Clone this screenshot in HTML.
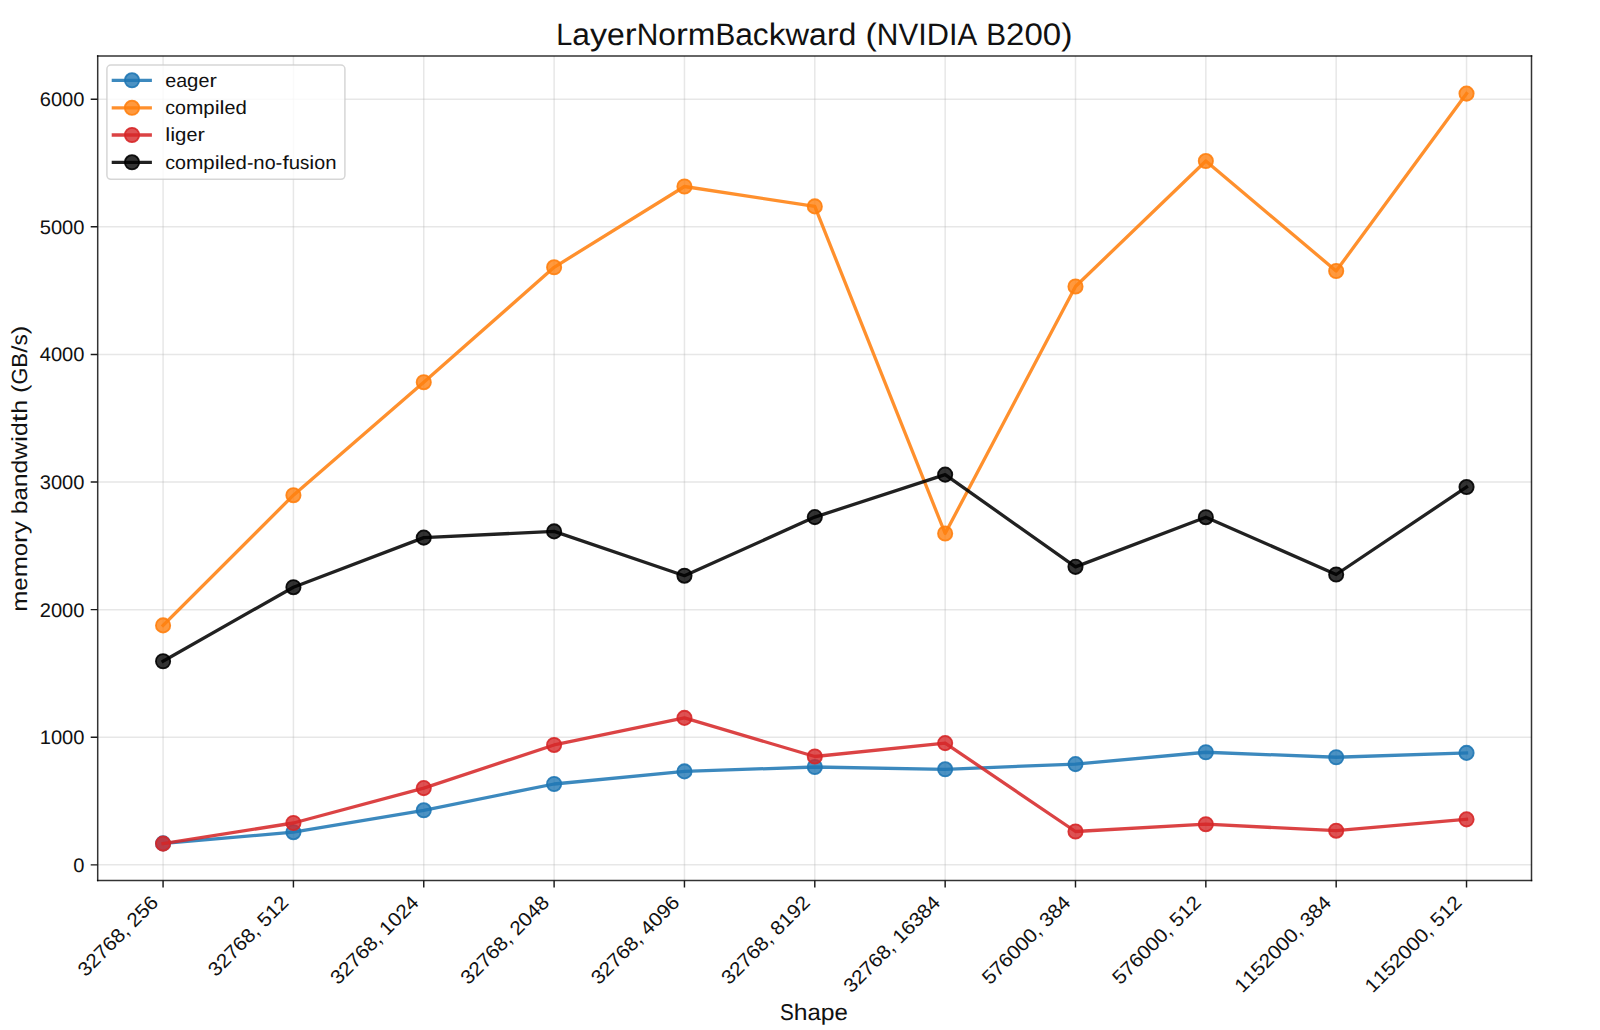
<!DOCTYPE html><html><head><meta charset="utf-8"><title>LayerNormBackward (NVIDIA B200)</title><style>html,body{margin:0;padding:0;background:#fff;overflow:hidden;width:1600px;height:1030px;}svg{display:block;}text{font-family:"Liberation Sans", sans-serif;fill:#111;text-rendering:geometricPrecision;}</style></head><body>
<svg width="1600" height="1030" viewBox="0 0 1600 1030">
<rect x="0" y="0" width="1600" height="1030" fill="#fff"/>
<path d="M163.07 56V880.4 M293.42 56V880.4 M423.76 56V880.4 M554.11 56V880.4 M684.45 56V880.4 M814.8 56V880.4 M945.15 56V880.4 M1075.49 56V880.4 M1205.84 56V880.4 M1336.18 56V880.4 M1466.53 56V880.4" stroke="#b0b0b0" stroke-opacity="0.3" stroke-width="1.5" fill="none"/>
<path d="M97.7 864.85H1531.5 M97.7 737.24H1531.5 M97.7 609.63H1531.5 M97.7 482.02H1531.5 M97.7 354.41H1531.5 M97.7 226.8H1531.5 M97.7 99.19H1531.5" stroke="#b0b0b0" stroke-opacity="0.3" stroke-width="1.5" fill="none"/>
<polyline points="163.07,843.4 293.42,832.2 423.76,810.3 554.11,784 684.45,771.4 814.8,767 945.15,769.3 1075.49,764.1 1205.84,752.25 1336.18,757.25 1466.53,752.9" fill="none" stroke="#1f77b4" stroke-opacity="0.87" stroke-width="3.3" stroke-linejoin="round" stroke-linecap="square"/>
<circle cx="163.07" cy="843.4" r="7.15" fill="#1f77b4" fill-opacity="0.8" stroke="#1f77b4" stroke-opacity="0.9" stroke-width="1.8"/>
<circle cx="293.42" cy="832.2" r="7.15" fill="#1f77b4" fill-opacity="0.8" stroke="#1f77b4" stroke-opacity="0.9" stroke-width="1.8"/>
<circle cx="423.76" cy="810.3" r="7.15" fill="#1f77b4" fill-opacity="0.8" stroke="#1f77b4" stroke-opacity="0.9" stroke-width="1.8"/>
<circle cx="554.11" cy="784" r="7.15" fill="#1f77b4" fill-opacity="0.8" stroke="#1f77b4" stroke-opacity="0.9" stroke-width="1.8"/>
<circle cx="684.45" cy="771.4" r="7.15" fill="#1f77b4" fill-opacity="0.8" stroke="#1f77b4" stroke-opacity="0.9" stroke-width="1.8"/>
<circle cx="814.8" cy="767" r="7.15" fill="#1f77b4" fill-opacity="0.8" stroke="#1f77b4" stroke-opacity="0.9" stroke-width="1.8"/>
<circle cx="945.15" cy="769.3" r="7.15" fill="#1f77b4" fill-opacity="0.8" stroke="#1f77b4" stroke-opacity="0.9" stroke-width="1.8"/>
<circle cx="1075.49" cy="764.1" r="7.15" fill="#1f77b4" fill-opacity="0.8" stroke="#1f77b4" stroke-opacity="0.9" stroke-width="1.8"/>
<circle cx="1205.84" cy="752.25" r="7.15" fill="#1f77b4" fill-opacity="0.8" stroke="#1f77b4" stroke-opacity="0.9" stroke-width="1.8"/>
<circle cx="1336.18" cy="757.25" r="7.15" fill="#1f77b4" fill-opacity="0.8" stroke="#1f77b4" stroke-opacity="0.9" stroke-width="1.8"/>
<circle cx="1466.53" cy="752.9" r="7.15" fill="#1f77b4" fill-opacity="0.8" stroke="#1f77b4" stroke-opacity="0.9" stroke-width="1.8"/>
<polyline points="163.07,625.4 293.42,495.2 423.76,382.2 554.11,267.3 684.45,186.5 814.8,206.4 945.15,533.5 1075.49,286.5 1205.84,161.05 1336.18,271 1466.53,93.6" fill="none" stroke="#ff7f0e" stroke-opacity="0.87" stroke-width="3.3" stroke-linejoin="round" stroke-linecap="square"/>
<circle cx="163.07" cy="625.4" r="7.15" fill="#ff7f0e" fill-opacity="0.8" stroke="#ff7f0e" stroke-opacity="0.9" stroke-width="1.8"/>
<circle cx="293.42" cy="495.2" r="7.15" fill="#ff7f0e" fill-opacity="0.8" stroke="#ff7f0e" stroke-opacity="0.9" stroke-width="1.8"/>
<circle cx="423.76" cy="382.2" r="7.15" fill="#ff7f0e" fill-opacity="0.8" stroke="#ff7f0e" stroke-opacity="0.9" stroke-width="1.8"/>
<circle cx="554.11" cy="267.3" r="7.15" fill="#ff7f0e" fill-opacity="0.8" stroke="#ff7f0e" stroke-opacity="0.9" stroke-width="1.8"/>
<circle cx="684.45" cy="186.5" r="7.15" fill="#ff7f0e" fill-opacity="0.8" stroke="#ff7f0e" stroke-opacity="0.9" stroke-width="1.8"/>
<circle cx="814.8" cy="206.4" r="7.15" fill="#ff7f0e" fill-opacity="0.8" stroke="#ff7f0e" stroke-opacity="0.9" stroke-width="1.8"/>
<circle cx="945.15" cy="533.5" r="7.15" fill="#ff7f0e" fill-opacity="0.8" stroke="#ff7f0e" stroke-opacity="0.9" stroke-width="1.8"/>
<circle cx="1075.49" cy="286.5" r="7.15" fill="#ff7f0e" fill-opacity="0.8" stroke="#ff7f0e" stroke-opacity="0.9" stroke-width="1.8"/>
<circle cx="1205.84" cy="161.05" r="7.15" fill="#ff7f0e" fill-opacity="0.8" stroke="#ff7f0e" stroke-opacity="0.9" stroke-width="1.8"/>
<circle cx="1336.18" cy="271" r="7.15" fill="#ff7f0e" fill-opacity="0.8" stroke="#ff7f0e" stroke-opacity="0.9" stroke-width="1.8"/>
<circle cx="1466.53" cy="93.6" r="7.15" fill="#ff7f0e" fill-opacity="0.8" stroke="#ff7f0e" stroke-opacity="0.9" stroke-width="1.8"/>
<polyline points="163.07,843.6 293.42,823 423.76,788.1 554.11,744.95 684.45,717.9 814.8,756.5 945.15,743.1 1075.49,831.5 1205.84,824.2 1336.18,830.7 1466.53,819.35" fill="none" stroke="#d62728" stroke-opacity="0.87" stroke-width="3.3" stroke-linejoin="round" stroke-linecap="square"/>
<circle cx="163.07" cy="843.6" r="7.15" fill="#d62728" fill-opacity="0.8" stroke="#d62728" stroke-opacity="0.9" stroke-width="1.8"/>
<circle cx="293.42" cy="823" r="7.15" fill="#d62728" fill-opacity="0.8" stroke="#d62728" stroke-opacity="0.9" stroke-width="1.8"/>
<circle cx="423.76" cy="788.1" r="7.15" fill="#d62728" fill-opacity="0.8" stroke="#d62728" stroke-opacity="0.9" stroke-width="1.8"/>
<circle cx="554.11" cy="744.95" r="7.15" fill="#d62728" fill-opacity="0.8" stroke="#d62728" stroke-opacity="0.9" stroke-width="1.8"/>
<circle cx="684.45" cy="717.9" r="7.15" fill="#d62728" fill-opacity="0.8" stroke="#d62728" stroke-opacity="0.9" stroke-width="1.8"/>
<circle cx="814.8" cy="756.5" r="7.15" fill="#d62728" fill-opacity="0.8" stroke="#d62728" stroke-opacity="0.9" stroke-width="1.8"/>
<circle cx="945.15" cy="743.1" r="7.15" fill="#d62728" fill-opacity="0.8" stroke="#d62728" stroke-opacity="0.9" stroke-width="1.8"/>
<circle cx="1075.49" cy="831.5" r="7.15" fill="#d62728" fill-opacity="0.8" stroke="#d62728" stroke-opacity="0.9" stroke-width="1.8"/>
<circle cx="1205.84" cy="824.2" r="7.15" fill="#d62728" fill-opacity="0.8" stroke="#d62728" stroke-opacity="0.9" stroke-width="1.8"/>
<circle cx="1336.18" cy="830.7" r="7.15" fill="#d62728" fill-opacity="0.8" stroke="#d62728" stroke-opacity="0.9" stroke-width="1.8"/>
<circle cx="1466.53" cy="819.35" r="7.15" fill="#d62728" fill-opacity="0.8" stroke="#d62728" stroke-opacity="0.9" stroke-width="1.8"/>
<polyline points="163.07,661.25 293.42,587.2 423.76,537.6 554.11,531.4 684.45,575.7 814.8,517.1 945.15,474.6 1075.49,566.85 1205.84,517.2 1336.18,574.5 1466.53,487.05" fill="none" stroke="#000000" stroke-opacity="0.87" stroke-width="3.3" stroke-linejoin="round" stroke-linecap="square"/>
<circle cx="163.07" cy="661.25" r="7.15" fill="#000000" fill-opacity="0.8" stroke="#000000" stroke-opacity="0.9" stroke-width="1.8"/>
<circle cx="293.42" cy="587.2" r="7.15" fill="#000000" fill-opacity="0.8" stroke="#000000" stroke-opacity="0.9" stroke-width="1.8"/>
<circle cx="423.76" cy="537.6" r="7.15" fill="#000000" fill-opacity="0.8" stroke="#000000" stroke-opacity="0.9" stroke-width="1.8"/>
<circle cx="554.11" cy="531.4" r="7.15" fill="#000000" fill-opacity="0.8" stroke="#000000" stroke-opacity="0.9" stroke-width="1.8"/>
<circle cx="684.45" cy="575.7" r="7.15" fill="#000000" fill-opacity="0.8" stroke="#000000" stroke-opacity="0.9" stroke-width="1.8"/>
<circle cx="814.8" cy="517.1" r="7.15" fill="#000000" fill-opacity="0.8" stroke="#000000" stroke-opacity="0.9" stroke-width="1.8"/>
<circle cx="945.15" cy="474.6" r="7.15" fill="#000000" fill-opacity="0.8" stroke="#000000" stroke-opacity="0.9" stroke-width="1.8"/>
<circle cx="1075.49" cy="566.85" r="7.15" fill="#000000" fill-opacity="0.8" stroke="#000000" stroke-opacity="0.9" stroke-width="1.8"/>
<circle cx="1205.84" cy="517.2" r="7.15" fill="#000000" fill-opacity="0.8" stroke="#000000" stroke-opacity="0.9" stroke-width="1.8"/>
<circle cx="1336.18" cy="574.5" r="7.15" fill="#000000" fill-opacity="0.8" stroke="#000000" stroke-opacity="0.9" stroke-width="1.8"/>
<circle cx="1466.53" cy="487.05" r="7.15" fill="#000000" fill-opacity="0.8" stroke="#000000" stroke-opacity="0.9" stroke-width="1.8"/>
<path d="M97.7 56V880.4" fill="none" stroke="#000" stroke-opacity="0.8" stroke-width="1.5" stroke-linecap="square"/>
<path d="M1531.5 56V880.4" fill="none" stroke="#000" stroke-opacity="0.8" stroke-width="1.5" stroke-linecap="square"/>
<path d="M97.7 56H1531.5" fill="none" stroke="#000" stroke-opacity="0.8" stroke-width="1.5" stroke-linecap="square"/>
<path d="M97.7 880.5H1531.5" fill="none" stroke="#000" stroke-opacity="0.8" stroke-width="1.5" stroke-linecap="square"/>
<path d="M163.07 880.4V887.4 M293.42 880.4V887.4 M423.76 880.4V887.4 M554.11 880.4V887.4 M684.45 880.4V887.4 M814.8 880.4V887.4 M945.15 880.4V887.4 M1075.49 880.4V887.4 M1205.84 880.4V887.4 M1336.18 880.4V887.4 M1466.53 880.4V887.4 M97.7 864.85H90.7 M97.7 737.24H90.7 M97.7 609.63H90.7 M97.7 482.02H90.7 M97.7 354.41H90.7 M97.7 226.8H90.7 M97.7 99.19H90.7" stroke="#1a1a1a" stroke-width="1.45" fill="none"/>
<text y="871.75" font-size="19.6"><tspan x="73.3" textLength="11.2" lengthAdjust="spacingAndGlyphs">0</tspan></text>
<text y="744.14" font-size="19.6"><tspan x="39.71" textLength="11.2" lengthAdjust="spacingAndGlyphs">1</tspan><tspan x="50.91" textLength="11.2" lengthAdjust="spacingAndGlyphs">0</tspan><tspan x="62.1" textLength="11.2" lengthAdjust="spacingAndGlyphs">0</tspan><tspan x="73.3" textLength="11.2" lengthAdjust="spacingAndGlyphs">0</tspan></text>
<text y="616.53" font-size="19.6"><tspan x="39.71" textLength="11.2" lengthAdjust="spacingAndGlyphs">2</tspan><tspan x="50.91" textLength="11.2" lengthAdjust="spacingAndGlyphs">0</tspan><tspan x="62.1" textLength="11.2" lengthAdjust="spacingAndGlyphs">0</tspan><tspan x="73.3" textLength="11.2" lengthAdjust="spacingAndGlyphs">0</tspan></text>
<text y="488.92" font-size="19.6"><tspan x="39.71" textLength="11.2" lengthAdjust="spacingAndGlyphs">3</tspan><tspan x="50.91" textLength="11.2" lengthAdjust="spacingAndGlyphs">0</tspan><tspan x="62.1" textLength="11.2" lengthAdjust="spacingAndGlyphs">0</tspan><tspan x="73.3" textLength="11.2" lengthAdjust="spacingAndGlyphs">0</tspan></text>
<text y="361.31" font-size="19.6"><tspan x="39.71" textLength="11.2" lengthAdjust="spacingAndGlyphs">4</tspan><tspan x="50.91" textLength="11.2" lengthAdjust="spacingAndGlyphs">0</tspan><tspan x="62.1" textLength="11.2" lengthAdjust="spacingAndGlyphs">0</tspan><tspan x="73.3" textLength="11.2" lengthAdjust="spacingAndGlyphs">0</tspan></text>
<text y="233.7" font-size="19.6"><tspan x="39.71" textLength="11.2" lengthAdjust="spacingAndGlyphs">5</tspan><tspan x="50.91" textLength="11.2" lengthAdjust="spacingAndGlyphs">0</tspan><tspan x="62.1" textLength="11.2" lengthAdjust="spacingAndGlyphs">0</tspan><tspan x="73.3" textLength="11.2" lengthAdjust="spacingAndGlyphs">0</tspan></text>
<text y="106.09" font-size="19.6"><tspan x="39.71" textLength="11.2" lengthAdjust="spacingAndGlyphs">6</tspan><tspan x="50.91" textLength="11.2" lengthAdjust="spacingAndGlyphs">0</tspan><tspan x="62.1" textLength="11.2" lengthAdjust="spacingAndGlyphs">0</tspan><tspan x="73.3" textLength="11.2" lengthAdjust="spacingAndGlyphs">0</tspan></text>
<text transform="translate(159.37 903.7) rotate(-45)" y="0" font-size="19.6"><tspan x="-104.21" textLength="11.58" lengthAdjust="spacingAndGlyphs">3</tspan><tspan x="-92.63" textLength="11.58" lengthAdjust="spacingAndGlyphs">2</tspan><tspan x="-81.05" textLength="11.58" lengthAdjust="spacingAndGlyphs">7</tspan><tspan x="-69.47" textLength="11.58" lengthAdjust="spacingAndGlyphs">6</tspan><tspan x="-57.89" textLength="11.58" lengthAdjust="spacingAndGlyphs">8</tspan><tspan x="-46.31" textLength="5.79" lengthAdjust="spacingAndGlyphs">,</tspan><tspan x="-34.74" textLength="11.58" lengthAdjust="spacingAndGlyphs">2</tspan><tspan x="-23.16" textLength="11.58" lengthAdjust="spacingAndGlyphs">5</tspan><tspan x="-11.58" textLength="11.58" lengthAdjust="spacingAndGlyphs">6</tspan></text>
<text transform="translate(289.72 903.7) rotate(-45)" y="0" font-size="19.6"><tspan x="-104.21" textLength="11.58" lengthAdjust="spacingAndGlyphs">3</tspan><tspan x="-92.63" textLength="11.58" lengthAdjust="spacingAndGlyphs">2</tspan><tspan x="-81.05" textLength="11.58" lengthAdjust="spacingAndGlyphs">7</tspan><tspan x="-69.47" textLength="11.58" lengthAdjust="spacingAndGlyphs">6</tspan><tspan x="-57.89" textLength="11.58" lengthAdjust="spacingAndGlyphs">8</tspan><tspan x="-46.31" textLength="5.79" lengthAdjust="spacingAndGlyphs">,</tspan><tspan x="-34.74" textLength="11.58" lengthAdjust="spacingAndGlyphs">5</tspan><tspan x="-23.16" textLength="11.58" lengthAdjust="spacingAndGlyphs">1</tspan><tspan x="-11.58" textLength="11.58" lengthAdjust="spacingAndGlyphs">2</tspan></text>
<text transform="translate(420.06 903.7) rotate(-45)" y="0" font-size="19.6"><tspan x="-115.79" textLength="11.58" lengthAdjust="spacingAndGlyphs">3</tspan><tspan x="-104.21" textLength="11.58" lengthAdjust="spacingAndGlyphs">2</tspan><tspan x="-92.63" textLength="11.58" lengthAdjust="spacingAndGlyphs">7</tspan><tspan x="-81.05" textLength="11.58" lengthAdjust="spacingAndGlyphs">6</tspan><tspan x="-69.47" textLength="11.58" lengthAdjust="spacingAndGlyphs">8</tspan><tspan x="-57.89" textLength="5.79" lengthAdjust="spacingAndGlyphs">,</tspan><tspan x="-46.32" textLength="11.58" lengthAdjust="spacingAndGlyphs">1</tspan><tspan x="-34.74" textLength="11.58" lengthAdjust="spacingAndGlyphs">0</tspan><tspan x="-23.16" textLength="11.58" lengthAdjust="spacingAndGlyphs">2</tspan><tspan x="-11.58" textLength="11.58" lengthAdjust="spacingAndGlyphs">4</tspan></text>
<text transform="translate(550.41 903.7) rotate(-45)" y="0" font-size="19.6"><tspan x="-115.79" textLength="11.58" lengthAdjust="spacingAndGlyphs">3</tspan><tspan x="-104.21" textLength="11.58" lengthAdjust="spacingAndGlyphs">2</tspan><tspan x="-92.63" textLength="11.58" lengthAdjust="spacingAndGlyphs">7</tspan><tspan x="-81.05" textLength="11.58" lengthAdjust="spacingAndGlyphs">6</tspan><tspan x="-69.47" textLength="11.58" lengthAdjust="spacingAndGlyphs">8</tspan><tspan x="-57.89" textLength="5.79" lengthAdjust="spacingAndGlyphs">,</tspan><tspan x="-46.32" textLength="11.58" lengthAdjust="spacingAndGlyphs">2</tspan><tspan x="-34.74" textLength="11.58" lengthAdjust="spacingAndGlyphs">0</tspan><tspan x="-23.16" textLength="11.58" lengthAdjust="spacingAndGlyphs">4</tspan><tspan x="-11.58" textLength="11.58" lengthAdjust="spacingAndGlyphs">8</tspan></text>
<text transform="translate(680.75 903.7) rotate(-45)" y="0" font-size="19.6"><tspan x="-115.79" textLength="11.58" lengthAdjust="spacingAndGlyphs">3</tspan><tspan x="-104.21" textLength="11.58" lengthAdjust="spacingAndGlyphs">2</tspan><tspan x="-92.63" textLength="11.58" lengthAdjust="spacingAndGlyphs">7</tspan><tspan x="-81.05" textLength="11.58" lengthAdjust="spacingAndGlyphs">6</tspan><tspan x="-69.47" textLength="11.58" lengthAdjust="spacingAndGlyphs">8</tspan><tspan x="-57.89" textLength="5.79" lengthAdjust="spacingAndGlyphs">,</tspan><tspan x="-46.32" textLength="11.58" lengthAdjust="spacingAndGlyphs">4</tspan><tspan x="-34.74" textLength="11.58" lengthAdjust="spacingAndGlyphs">0</tspan><tspan x="-23.16" textLength="11.58" lengthAdjust="spacingAndGlyphs">9</tspan><tspan x="-11.58" textLength="11.58" lengthAdjust="spacingAndGlyphs">6</tspan></text>
<text transform="translate(811.1 903.7) rotate(-45)" y="0" font-size="19.6"><tspan x="-115.79" textLength="11.58" lengthAdjust="spacingAndGlyphs">3</tspan><tspan x="-104.21" textLength="11.58" lengthAdjust="spacingAndGlyphs">2</tspan><tspan x="-92.63" textLength="11.58" lengthAdjust="spacingAndGlyphs">7</tspan><tspan x="-81.05" textLength="11.58" lengthAdjust="spacingAndGlyphs">6</tspan><tspan x="-69.47" textLength="11.58" lengthAdjust="spacingAndGlyphs">8</tspan><tspan x="-57.89" textLength="5.79" lengthAdjust="spacingAndGlyphs">,</tspan><tspan x="-46.32" textLength="11.58" lengthAdjust="spacingAndGlyphs">8</tspan><tspan x="-34.74" textLength="11.58" lengthAdjust="spacingAndGlyphs">1</tspan><tspan x="-23.16" textLength="11.58" lengthAdjust="spacingAndGlyphs">9</tspan><tspan x="-11.58" textLength="11.58" lengthAdjust="spacingAndGlyphs">2</tspan></text>
<text transform="translate(941.45 903.7) rotate(-45)" y="0" font-size="19.6"><tspan x="-127.37" textLength="11.58" lengthAdjust="spacingAndGlyphs">3</tspan><tspan x="-115.79" textLength="11.58" lengthAdjust="spacingAndGlyphs">2</tspan><tspan x="-104.21" textLength="11.58" lengthAdjust="spacingAndGlyphs">7</tspan><tspan x="-92.63" textLength="11.58" lengthAdjust="spacingAndGlyphs">6</tspan><tspan x="-81.05" textLength="11.58" lengthAdjust="spacingAndGlyphs">8</tspan><tspan x="-69.47" textLength="5.79" lengthAdjust="spacingAndGlyphs">,</tspan><tspan x="-57.9" textLength="11.58" lengthAdjust="spacingAndGlyphs">1</tspan><tspan x="-46.32" textLength="11.58" lengthAdjust="spacingAndGlyphs">6</tspan><tspan x="-34.74" textLength="11.58" lengthAdjust="spacingAndGlyphs">3</tspan><tspan x="-23.16" textLength="11.58" lengthAdjust="spacingAndGlyphs">8</tspan><tspan x="-11.58" textLength="11.58" lengthAdjust="spacingAndGlyphs">4</tspan></text>
<text transform="translate(1071.79 903.7) rotate(-45)" y="0" font-size="19.6"><tspan x="-115.79" textLength="11.58" lengthAdjust="spacingAndGlyphs">5</tspan><tspan x="-104.21" textLength="11.58" lengthAdjust="spacingAndGlyphs">7</tspan><tspan x="-92.63" textLength="11.58" lengthAdjust="spacingAndGlyphs">6</tspan><tspan x="-81.05" textLength="11.58" lengthAdjust="spacingAndGlyphs">0</tspan><tspan x="-69.47" textLength="11.58" lengthAdjust="spacingAndGlyphs">0</tspan><tspan x="-57.89" textLength="11.58" lengthAdjust="spacingAndGlyphs">0</tspan><tspan x="-46.31" textLength="5.79" lengthAdjust="spacingAndGlyphs">,</tspan><tspan x="-34.74" textLength="11.58" lengthAdjust="spacingAndGlyphs">3</tspan><tspan x="-23.16" textLength="11.58" lengthAdjust="spacingAndGlyphs">8</tspan><tspan x="-11.58" textLength="11.58" lengthAdjust="spacingAndGlyphs">4</tspan></text>
<text transform="translate(1202.14 903.7) rotate(-45)" y="0" font-size="19.6"><tspan x="-115.79" textLength="11.58" lengthAdjust="spacingAndGlyphs">5</tspan><tspan x="-104.21" textLength="11.58" lengthAdjust="spacingAndGlyphs">7</tspan><tspan x="-92.63" textLength="11.58" lengthAdjust="spacingAndGlyphs">6</tspan><tspan x="-81.05" textLength="11.58" lengthAdjust="spacingAndGlyphs">0</tspan><tspan x="-69.47" textLength="11.58" lengthAdjust="spacingAndGlyphs">0</tspan><tspan x="-57.89" textLength="11.58" lengthAdjust="spacingAndGlyphs">0</tspan><tspan x="-46.31" textLength="5.79" lengthAdjust="spacingAndGlyphs">,</tspan><tspan x="-34.74" textLength="11.58" lengthAdjust="spacingAndGlyphs">5</tspan><tspan x="-23.16" textLength="11.58" lengthAdjust="spacingAndGlyphs">1</tspan><tspan x="-11.58" textLength="11.58" lengthAdjust="spacingAndGlyphs">2</tspan></text>
<text transform="translate(1332.48 903.7) rotate(-45)" y="0" font-size="19.6"><tspan x="-127.37" textLength="11.58" lengthAdjust="spacingAndGlyphs">1</tspan><tspan x="-115.79" textLength="11.58" lengthAdjust="spacingAndGlyphs">1</tspan><tspan x="-104.21" textLength="11.58" lengthAdjust="spacingAndGlyphs">5</tspan><tspan x="-92.63" textLength="11.58" lengthAdjust="spacingAndGlyphs">2</tspan><tspan x="-81.05" textLength="11.58" lengthAdjust="spacingAndGlyphs">0</tspan><tspan x="-69.47" textLength="11.58" lengthAdjust="spacingAndGlyphs">0</tspan><tspan x="-57.89" textLength="11.58" lengthAdjust="spacingAndGlyphs">0</tspan><tspan x="-46.31" textLength="5.79" lengthAdjust="spacingAndGlyphs">,</tspan><tspan x="-34.74" textLength="11.58" lengthAdjust="spacingAndGlyphs">3</tspan><tspan x="-23.16" textLength="11.58" lengthAdjust="spacingAndGlyphs">8</tspan><tspan x="-11.58" textLength="11.58" lengthAdjust="spacingAndGlyphs">4</tspan></text>
<text transform="translate(1462.83 903.7) rotate(-45)" y="0" font-size="19.6"><tspan x="-127.37" textLength="11.58" lengthAdjust="spacingAndGlyphs">1</tspan><tspan x="-115.79" textLength="11.58" lengthAdjust="spacingAndGlyphs">1</tspan><tspan x="-104.21" textLength="11.58" lengthAdjust="spacingAndGlyphs">5</tspan><tspan x="-92.63" textLength="11.58" lengthAdjust="spacingAndGlyphs">2</tspan><tspan x="-81.05" textLength="11.58" lengthAdjust="spacingAndGlyphs">0</tspan><tspan x="-69.47" textLength="11.58" lengthAdjust="spacingAndGlyphs">0</tspan><tspan x="-57.89" textLength="11.58" lengthAdjust="spacingAndGlyphs">0</tspan><tspan x="-46.31" textLength="5.79" lengthAdjust="spacingAndGlyphs">,</tspan><tspan x="-34.74" textLength="11.58" lengthAdjust="spacingAndGlyphs">5</tspan><tspan x="-23.16" textLength="11.58" lengthAdjust="spacingAndGlyphs">1</tspan><tspan x="-11.58" textLength="11.58" lengthAdjust="spacingAndGlyphs">2</tspan></text>
<text y="45.2" font-size="31.0"><tspan x="556.2" textLength="16.08" lengthAdjust="spacingAndGlyphs">L</tspan><tspan x="572.28" textLength="17.69" lengthAdjust="spacingAndGlyphs">a</tspan><tspan x="589.96" textLength="17.08" lengthAdjust="spacingAndGlyphs">y</tspan><tspan x="607.04" textLength="17.76" lengthAdjust="spacingAndGlyphs">e</tspan><tspan x="624.8" textLength="11.87" lengthAdjust="spacingAndGlyphs">r</tspan><tspan x="636.66" textLength="21.59" lengthAdjust="spacingAndGlyphs">N</tspan><tspan x="658.25" textLength="17.66" lengthAdjust="spacingAndGlyphs">o</tspan><tspan x="675.91" textLength="11.87" lengthAdjust="spacingAndGlyphs">r</tspan><tspan x="687.78" textLength="27.61" lengthAdjust="spacingAndGlyphs">m</tspan><tspan x="715.38" textLength="19.8" lengthAdjust="spacingAndGlyphs">B</tspan><tspan x="735.18" textLength="17.69" lengthAdjust="spacingAndGlyphs">a</tspan><tspan x="752.87" textLength="15.87" lengthAdjust="spacingAndGlyphs">c</tspan><tspan x="768.73" textLength="16.71" lengthAdjust="spacingAndGlyphs">k</tspan><tspan x="785.45" textLength="23.6" lengthAdjust="spacingAndGlyphs">w</tspan><tspan x="809.05" textLength="17.69" lengthAdjust="spacingAndGlyphs">a</tspan><tspan x="826.74" textLength="11.87" lengthAdjust="spacingAndGlyphs">r</tspan><tspan x="838.6" textLength="17.81" lengthAdjust="spacingAndGlyphs">d</tspan><tspan x="865.59" textLength="11.26" lengthAdjust="spacingAndGlyphs">(</tspan><tspan x="876.85" textLength="21.59" lengthAdjust="spacingAndGlyphs">N</tspan><tspan x="898.43" textLength="19.74" lengthAdjust="spacingAndGlyphs">V</tspan><tspan x="918.18" textLength="8.51" lengthAdjust="spacingAndGlyphs">I</tspan><tspan x="926.69" textLength="22.22" lengthAdjust="spacingAndGlyphs">D</tspan><tspan x="948.91" textLength="8.51" lengthAdjust="spacingAndGlyphs">I</tspan><tspan x="957.42" textLength="19.74" lengthAdjust="spacingAndGlyphs">A</tspan><tspan x="986.34" textLength="19.8" lengthAdjust="spacingAndGlyphs">B</tspan><tspan x="1006.14" textLength="18.36" lengthAdjust="spacingAndGlyphs">2</tspan><tspan x="1024.5" textLength="18.36" lengthAdjust="spacingAndGlyphs">0</tspan><tspan x="1042.86" textLength="18.36" lengthAdjust="spacingAndGlyphs">0</tspan><tspan x="1061.22" textLength="11.26" lengthAdjust="spacingAndGlyphs">)</tspan></text>
<text y="1019.6" font-size="22.9"><tspan x="779.9" textLength="13.77" lengthAdjust="spacingAndGlyphs">S</tspan><tspan x="793.67" textLength="13.75" lengthAdjust="spacingAndGlyphs">h</tspan><tspan x="807.43" textLength="13.3" lengthAdjust="spacingAndGlyphs">a</tspan><tspan x="820.73" textLength="13.77" lengthAdjust="spacingAndGlyphs">p</tspan><tspan x="834.5" textLength="13.35" lengthAdjust="spacingAndGlyphs">e</tspan></text>
<text transform="translate(26.5 611.85) rotate(-90)" y="0" font-size="21.8"><tspan x="0" textLength="21.14" lengthAdjust="spacingAndGlyphs">m</tspan><tspan x="21.14" textLength="13.35" lengthAdjust="spacingAndGlyphs">e</tspan><tspan x="34.49" textLength="21.14" lengthAdjust="spacingAndGlyphs">m</tspan><tspan x="55.63" textLength="13.28" lengthAdjust="spacingAndGlyphs">o</tspan><tspan x="68.9" textLength="8.92" lengthAdjust="spacingAndGlyphs">r</tspan><tspan x="77.83" textLength="12.84" lengthAdjust="spacingAndGlyphs">y</tspan><tspan x="97.57" textLength="13.77" lengthAdjust="spacingAndGlyphs">b</tspan><tspan x="111.34" textLength="13.3" lengthAdjust="spacingAndGlyphs">a</tspan><tspan x="124.64" textLength="13.75" lengthAdjust="spacingAndGlyphs">n</tspan><tspan x="138.39" textLength="13.77" lengthAdjust="spacingAndGlyphs">d</tspan><tspan x="152.17" textLength="17.75" lengthAdjust="spacingAndGlyphs">w</tspan><tspan x="169.91" textLength="6.03" lengthAdjust="spacingAndGlyphs">i</tspan><tspan x="175.94" textLength="13.77" lengthAdjust="spacingAndGlyphs">d</tspan><tspan x="189.72" textLength="8.51" lengthAdjust="spacingAndGlyphs">t</tspan><tspan x="198.23" textLength="13.75" lengthAdjust="spacingAndGlyphs">h</tspan><tspan x="218.88" textLength="8.47" lengthAdjust="spacingAndGlyphs">(</tspan><tspan x="227.34" textLength="16.82" lengthAdjust="spacingAndGlyphs">G</tspan><tspan x="244.16" textLength="14.89" lengthAdjust="spacingAndGlyphs">B</tspan><tspan x="259.04" textLength="7.31" lengthAdjust="spacingAndGlyphs">/</tspan><tspan x="266.36" textLength="11.31" lengthAdjust="spacingAndGlyphs">s</tspan><tspan x="277.66" textLength="8.47" lengthAdjust="spacingAndGlyphs">)</tspan></text>
<rect x="106.9" y="65" width="238" height="114.3" rx="4" ry="4" fill="#fff" fill-opacity="0.8" stroke="#cccccc" stroke-opacity="0.8" stroke-width="1.5"/>
<path d="M111.7 80.3H151.9" stroke="#1f77b4" stroke-opacity="0.87" stroke-width="3.3" fill="none"/>
<circle cx="132" cy="80.3" r="7.15" fill="#1f77b4" fill-opacity="0.8" stroke="#1f77b4" stroke-opacity="0.9" stroke-width="1.8"/>
<text y="87.2" font-size="19.0"><tspan x="165.2" textLength="10.99" lengthAdjust="spacingAndGlyphs">e</tspan><tspan x="176.19" textLength="10.94" lengthAdjust="spacingAndGlyphs">a</tspan><tspan x="187.13" textLength="11.34" lengthAdjust="spacingAndGlyphs">g</tspan><tspan x="198.47" textLength="10.99" lengthAdjust="spacingAndGlyphs">e</tspan><tspan x="209.46" textLength="7.34" lengthAdjust="spacingAndGlyphs">r</tspan></text>
<path d="M111.7 107.8H151.9" stroke="#ff7f0e" stroke-opacity="0.87" stroke-width="3.3" fill="none"/>
<circle cx="132" cy="107.8" r="7.15" fill="#ff7f0e" fill-opacity="0.8" stroke="#ff7f0e" stroke-opacity="0.9" stroke-width="1.8"/>
<text y="114.1" font-size="19.0"><tspan x="165.2" textLength="9.82" lengthAdjust="spacingAndGlyphs">c</tspan><tspan x="175.02" textLength="10.93" lengthAdjust="spacingAndGlyphs">o</tspan><tspan x="185.95" textLength="17.4" lengthAdjust="spacingAndGlyphs">m</tspan><tspan x="203.34" textLength="11.34" lengthAdjust="spacingAndGlyphs">p</tspan><tspan x="214.68" textLength="4.96" lengthAdjust="spacingAndGlyphs">i</tspan><tspan x="219.64" textLength="4.96" lengthAdjust="spacingAndGlyphs">l</tspan><tspan x="224.61" textLength="10.99" lengthAdjust="spacingAndGlyphs">e</tspan><tspan x="235.59" textLength="11.34" lengthAdjust="spacingAndGlyphs">d</tspan></text>
<path d="M111.7 135H151.9" stroke="#d62728" stroke-opacity="0.87" stroke-width="3.3" fill="none"/>
<circle cx="132" cy="135" r="7.15" fill="#d62728" fill-opacity="0.8" stroke="#d62728" stroke-opacity="0.9" stroke-width="1.8"/>
<text y="141.1" font-size="19.0"><tspan x="165.2" textLength="4.96" lengthAdjust="spacingAndGlyphs">l</tspan><tspan x="170.16" textLength="4.96" lengthAdjust="spacingAndGlyphs">i</tspan><tspan x="175.12" textLength="11.34" lengthAdjust="spacingAndGlyphs">g</tspan><tspan x="186.46" textLength="10.99" lengthAdjust="spacingAndGlyphs">e</tspan><tspan x="197.45" textLength="7.34" lengthAdjust="spacingAndGlyphs">r</tspan></text>
<path d="M111.7 162.3H151.9" stroke="#000000" stroke-opacity="0.87" stroke-width="3.3" fill="none"/>
<circle cx="132" cy="162.3" r="7.15" fill="#000000" fill-opacity="0.8" stroke="#000000" stroke-opacity="0.9" stroke-width="1.8"/>
<text y="168.5" font-size="19.0"><tspan x="165.2" textLength="9.82" lengthAdjust="spacingAndGlyphs">c</tspan><tspan x="175.02" textLength="10.93" lengthAdjust="spacingAndGlyphs">o</tspan><tspan x="185.95" textLength="17.4" lengthAdjust="spacingAndGlyphs">m</tspan><tspan x="203.34" textLength="11.34" lengthAdjust="spacingAndGlyphs">p</tspan><tspan x="214.68" textLength="4.96" lengthAdjust="spacingAndGlyphs">i</tspan><tspan x="219.64" textLength="4.96" lengthAdjust="spacingAndGlyphs">l</tspan><tspan x="224.61" textLength="10.99" lengthAdjust="spacingAndGlyphs">e</tspan><tspan x="235.59" textLength="11.34" lengthAdjust="spacingAndGlyphs">d</tspan><tspan x="246.93" textLength="6.44" lengthAdjust="spacingAndGlyphs">-</tspan><tspan x="253.38" textLength="11.32" lengthAdjust="spacingAndGlyphs">n</tspan><tspan x="264.69" textLength="10.93" lengthAdjust="spacingAndGlyphs">o</tspan><tspan x="275.62" textLength="6.78" lengthAdjust="spacingAndGlyphs">-</tspan><tspan x="282.4" textLength="6.29" lengthAdjust="spacingAndGlyphs">f</tspan><tspan x="288.69" textLength="11.32" lengthAdjust="spacingAndGlyphs">u</tspan><tspan x="300.01" textLength="9.31" lengthAdjust="spacingAndGlyphs">s</tspan><tspan x="309.31" textLength="4.96" lengthAdjust="spacingAndGlyphs">i</tspan><tspan x="314.27" textLength="10.93" lengthAdjust="spacingAndGlyphs">o</tspan><tspan x="325.2" textLength="11.32" lengthAdjust="spacingAndGlyphs">n</tspan></text>
</svg></body></html>
